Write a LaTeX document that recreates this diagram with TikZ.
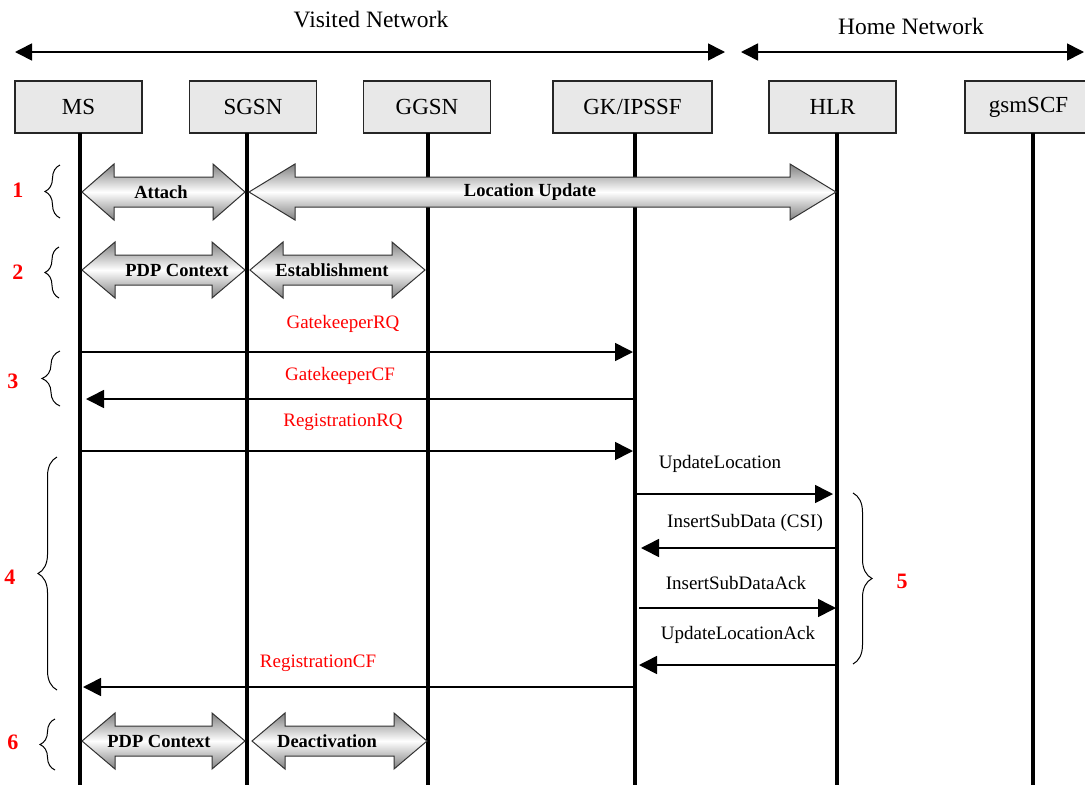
\documentclass[tikz,border=0pt]{standalone}
\usepackage{fontspec}
\setmainfont{Liberation Serif}
\usetikzlibrary{arrows.meta,decorations.pathreplacing}

\begin{document}
\begin{tikzpicture}[x=1pt,y=-1pt,
  entity/.style={draw=black!85,line width=1.4pt,fill=black!9,minimum width=127pt,
    minimum height=52pt,inner sep=0pt,font=\fontsize{23}{26}\selectfont},
  netlbl/.style={font=\fontsize{23.5}{26}\selectfont},
  lifeline/.style={line width=4pt},
  netarrow/.style={line width=1.6pt,{Triangle[length=17pt,width=17pt]}-{Triangle[length=17pt,width=17pt]}},
  msg/.style={line width=1.6pt,-{Triangle[length=18pt,width=18pt]}},
  redlbl/.style={text=red,font=\fontsize{19}{22}\selectfont},
  msglbl/.style={font=\fontsize{19}{22}\selectfont},
  steplbl/.style={text=red,font=\bfseries\fontsize{22}{24}\selectfont},
  blocklbl/.style={font=\bfseries\fontsize{18.5}{22}\selectfont},
  bracket/.style={line width=1pt,decorate,decoration={brace,amplitude=#1}},
  bracket/.default=15pt,
  blockarrow/.style={draw=black!80,line width=1pt,top color=black!50,
    bottom color=black!50,middle color=white}]
\clip (0,0) rectangle (1085,785);
% networks
\node[netlbl] (visited) at (371,20) {Visited Network};
\node[netlbl] (home) at (911,26) {Home Network};
\coordinate (vL) at (15,52);
\coordinate (vR) at (725,52);
\coordinate (hL) at (741,52);
\coordinate (hR) at (1084,52);
\draw[netarrow] (vL) -- (vR);
\draw[netarrow] (hL) -- (hR);
% entities
\node[entity] (ms) at (78.5,107) {MS};
\node[entity] (sgsn) at (253,107) {SGSN};
\node[entity] (ggsn) at (427,107) {GGSN};
\node[entity,minimum width=159pt] (gk) at (632.5,107) {GK/IPSSF};
\node[entity] (hlr) at (832.5,107) {HLR};
\node[entity] (scf) at (1028.5,107) {gsmSCF};
% lifelines
\coordinate (lMS) at (80,133);
\coordinate (lSGSN) at (247,133);
\coordinate (lGGSN) at (428,133);
\coordinate (lGK) at (635,133);
\coordinate (lHLR) at (837,133);
\coordinate (lSCF) at (1033,133);
\foreach \l in {lMS,lSGSN,lGGSN,lGK,lHLR,lSCF}
  \draw[lifeline] (\l) -- (\l |- 0,785);
% block arrows
\foreach \xa/\xb/\yc/\hl/\tx/\txt/\nm in {
  82/245/192/32/161/Attach/attach,
  249/836/192/46/530/Location Update/locupd,
  82/245/270/33/177/PDP Context/pdpest,
  250/425/270/33/332/Establishment/establ,
  82/245/741/33/159/PDP Context/pdpdeact,
  252/427/741/33/327/Deactivation/deact}{
  \draw[blockarrow] (\xa,\yc) -- (\xa+\hl,\yc-28) -- (\xa+\hl,\yc-15) -- (\xb-\hl,\yc-15)
    -- (\xb-\hl,\yc-28) -- (\xb,\yc) -- (\xb-\hl,\yc+28) -- (\xb-\hl,\yc+15)
    -- (\xa+\hl,\yc+15) -- (\xa+\hl,\yc+28) -- cycle;
  \node[blocklbl] (\nm) at (\tx,\yc) {\txt};
}
% messages
\node[redlbl] (gkrq) at (343,324) {GatekeeperRQ};
\draw[msg,shorten >=2pt] (lMS |- 0,352) -- (lGK |- 0,352);
\node[redlbl] (gkcf) at (340,376) {GatekeeperCF};
\draw[msg,shorten >=6pt] (lGK |- 0,399) -- (lMS |- 0,399);
\node[redlbl] (regrq) at (343,422) {RegistrationRQ};
\draw[msg,shorten >=2pt] (lMS |- 0,451) -- (lGK |- 0,451);
\node[msglbl] (updloc) at (720,464) {UpdateLocation};
\draw[msg,shorten >=4pt] (lGK |- 0,494) -- (lHLR |- 0,494);
\node[msglbl] (insdata) at (745,523) {InsertSubData (CSI)};
\draw[msg,shorten >=6pt] (lHLR |- 0,548) -- (lGK |- 0,548);
\node[msglbl] (insack) at (736,583) {InsertSubDataAck};
\draw[msg,shorten <=4pt,shorten >=1pt] (lGK |- 0,608) -- (lHLR |- 0,608);
\node[msglbl] (updack) at (738,635) {UpdateLocationAck};
\draw[msg,shorten >=4pt] (lHLR |- 0,665) -- (lGK |- 0,665);
\node[redlbl] (regcf) at (318,663) {RegistrationCF};
\draw[msg,shorten >=3pt] (lGK |- 0,687) -- (lMS |- 0,687);
% steps
\draw[bracket] (60,218) -- (60,165);
\draw[bracket=14pt] (59,298) -- (59,247);
\draw[bracket=18pt] (60,406) -- (60,351);
\draw[bracket=19pt] (57,690) -- (57,457);
\draw[bracket=19pt] (853,493) -- (853,664);
\draw[bracket] (55,770) -- (55,719);
\node[steplbl] (s1) at (18,190) {1};
\node[steplbl] (s2) at (18,272) {2};
\node[steplbl] (s3) at (13,381) {3};
\node[steplbl] (s4) at (10,577) {4};
\node[steplbl] (s5) at (902,581) {5};
\node[steplbl] (s6) at (13,742) {6};
\end{tikzpicture}
\end{document}
